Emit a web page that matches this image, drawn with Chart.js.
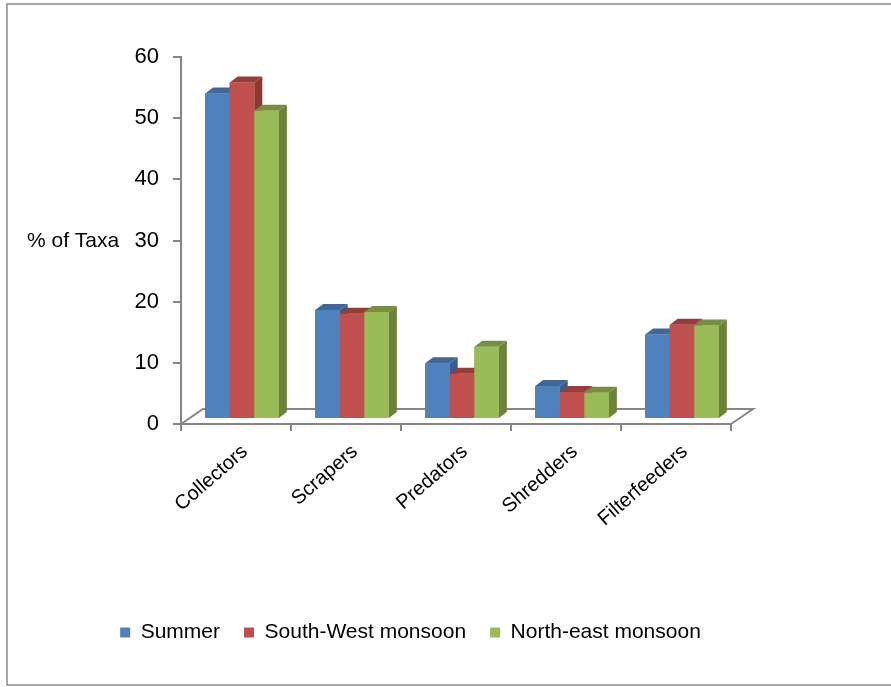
<!DOCTYPE html>
<html>
<head>
<meta charset="utf-8">
<title>Functional feeding groups</title>
<script src="https://cdn.jsdelivr.net/npm/chart.js@4.4.1/dist/chart.umd.min.js"></script>
<style>
  html, body { margin: 0; padding: 0; background: #fff; overflow: hidden; }
  #wrap { position: relative; width: 891px; height: 687px; }
</style>
</head>
<body>
<div id="wrap"><canvas id="myChart" width="891" height="687"></canvas></div>
<script>
// % of taxa per feeding group and season
const groups = ['Collectors', 'Scrapers', 'Predators', 'Shredders', 'Filterfeeders'];
const summer = [53.2, 17.8, 9.1, 5.4, 13.8];
const southWest = [55, 17.2, 7.4, 4.4, 15.4];
const northEast = [50.4, 17.5, 11.8, 4.3, 15.3];
const seasons = ['Summer', 'South-West monsoon', 'North-east monsoon'];
const yMin = 0;
const yMax = 60;
const yStep = 10;

// Excel style faces: front, side, top
const frontColors = ['#4F81BD', '#C0504D', '#9BBB59'];
const sideColors = ['#385D8A', '#8C3836', '#6B823D'];
const topColors = ['#3F6798', '#963C39', '#76903F'];

const AXIS_GREY = '#868686';
const BAR_SHIFT = { x: 6, y: -5 };   // columns stand a bit back on the floor
const DEPTH = { x: 8, y: -6 };       // column depth
const FLOOR = { x: 22, y: -15 };     // floor depth

Chart.defaults.font.family = "'Liberation Sans', Arial, sans-serif";
Chart.defaults.color = '#000';

const columns3d = {
    id: 'columns3d',
    beforeDraw(chart) {
        // frame round the whole chart
        const ctx = chart.ctx;
        ctx.save();
        ctx.strokeStyle = '#8a8a8a';
        ctx.lineWidth = 1.5;
        ctx.strokeRect(7, 4, 900, 681);
        ctx.restore();
    },
    beforeDatasetsDraw(chart) {
        const { ctx, chartArea: a } = chart;
        // floor outline
        ctx.save();
        ctx.strokeStyle = AXIS_GREY;
        ctx.lineWidth = 2;
        ctx.beginPath();
        ctx.moveTo(a.left, a.bottom);
        ctx.lineTo(a.left + FLOOR.x, a.bottom + FLOOR.y);
        ctx.lineTo(a.right + FLOOR.x, a.bottom + FLOOR.y);
        ctx.lineTo(a.right, a.bottom);
        ctx.stroke();
        ctx.restore();

        ctx.save();
        ctx.translate(BAR_SHIFT.x, BAR_SHIFT.y);
    },
    afterDatasetsDraw(chart) {
        const ctx = chart.ctx;
        // left to right so each front covers the side of its neighbour
        groups.forEach((g, i) => {
            chart.data.datasets.forEach((ds, d) => {
                const el = chart.getDatasetMeta(d).data[i];
                const l = el.x - el.width / 2;
                const r = el.x + el.width / 2;
                const t = el.y;
                const b = el.base;

                ctx.fillStyle = sideColors[d];
                ctx.beginPath();
                ctx.moveTo(r, t);
                ctx.lineTo(r + DEPTH.x, t + DEPTH.y);
                ctx.lineTo(r + DEPTH.x, b + DEPTH.y);
                ctx.lineTo(r, b);
                ctx.closePath();
                ctx.fill();

                ctx.fillStyle = topColors[d];
                ctx.beginPath();
                ctx.moveTo(l, t);
                ctx.lineTo(l + DEPTH.x, t + DEPTH.y);
                ctx.lineTo(r + DEPTH.x, t + DEPTH.y);
                ctx.lineTo(r, t);
                ctx.closePath();
                ctx.fill();

                ctx.fillStyle = frontColors[d];
                ctx.fillRect(l, t, r - l, b - t);
            });
        });
        ctx.restore();
    },
    afterDraw(chart) {
        // horizontal value-axis title next to the 30 tick
        const ctx = chart.ctx;
        const y = chart.scales.y.getPixelForValue(30);
        ctx.save();
        ctx.font = "21px 'Liberation Sans', Arial, sans-serif";
        ctx.fillStyle = '#000';
        ctx.textAlign = 'left';
        ctx.textBaseline = 'middle';
        ctx.fillText('% of Taxa', 27, y + 1);
        ctx.restore();
    }
};

const seriesValues = [summer, southWest, northEast];

const ctx = document.getElementById('myChart').getContext('2d');
const myChart = new Chart(ctx, {
    type: 'bar',
    data: {
        labels: groups,
        datasets: seasons.map((name, d) => ({
            label: name,
            data: seriesValues[d],
            backgroundColor: frontColors[d],
            borderWidth: 0,
            barPercentage: 1,
            categoryPercentage: 0.67,
            clip: false
        }))
    },
    options: {
        responsive: false,
        animation: false,
        layout: { padding: { left: 90, right: 160, top: 57, bottom: 34 } },
        plugins: {
            legend: {
                position: 'bottom',
                labels: {
                    boxWidth: 10,
                    boxHeight: 10,
                    padding: 24,
                    color: '#000',
                    font: { size: 21 }
                }
            },
            tooltip: { enabled: false }
        },
        scales: {
            x: {
                grid: {
                    offset: true,
                    drawOnChartArea: false,
                    tickLength: 7,
                    color: AXIS_GREY,
                    lineWidth: 2
                },
                border: { color: AXIS_GREY, width: 2 },
                ticks: {
                    minRotation: 41,
                    maxRotation: 41,
                    labelOffset: 9,
                    padding: 9,
                    color: '#000',
                    font: { size: 20 }
                },
                afterFit(scale) { scale.height = 174; }
            },
            y: {
                min: yMin,
                max: yMax,
                ticks: {
                    stepSize: yStep,
                    padding: 14,
                    color: '#000',
                    font: { size: 22 }
                },
                grid: {
                    drawOnChartArea: false,
                    tickLength: 8,
                    color: AXIS_GREY,
                    lineWidth: 2
                },
                border: { color: AXIS_GREY, width: 2 },
                afterFit(scale) { scale.width = 91; }
            }
        }
    },
    plugins: [columns3d]
});
</script>
</body>
</html>
